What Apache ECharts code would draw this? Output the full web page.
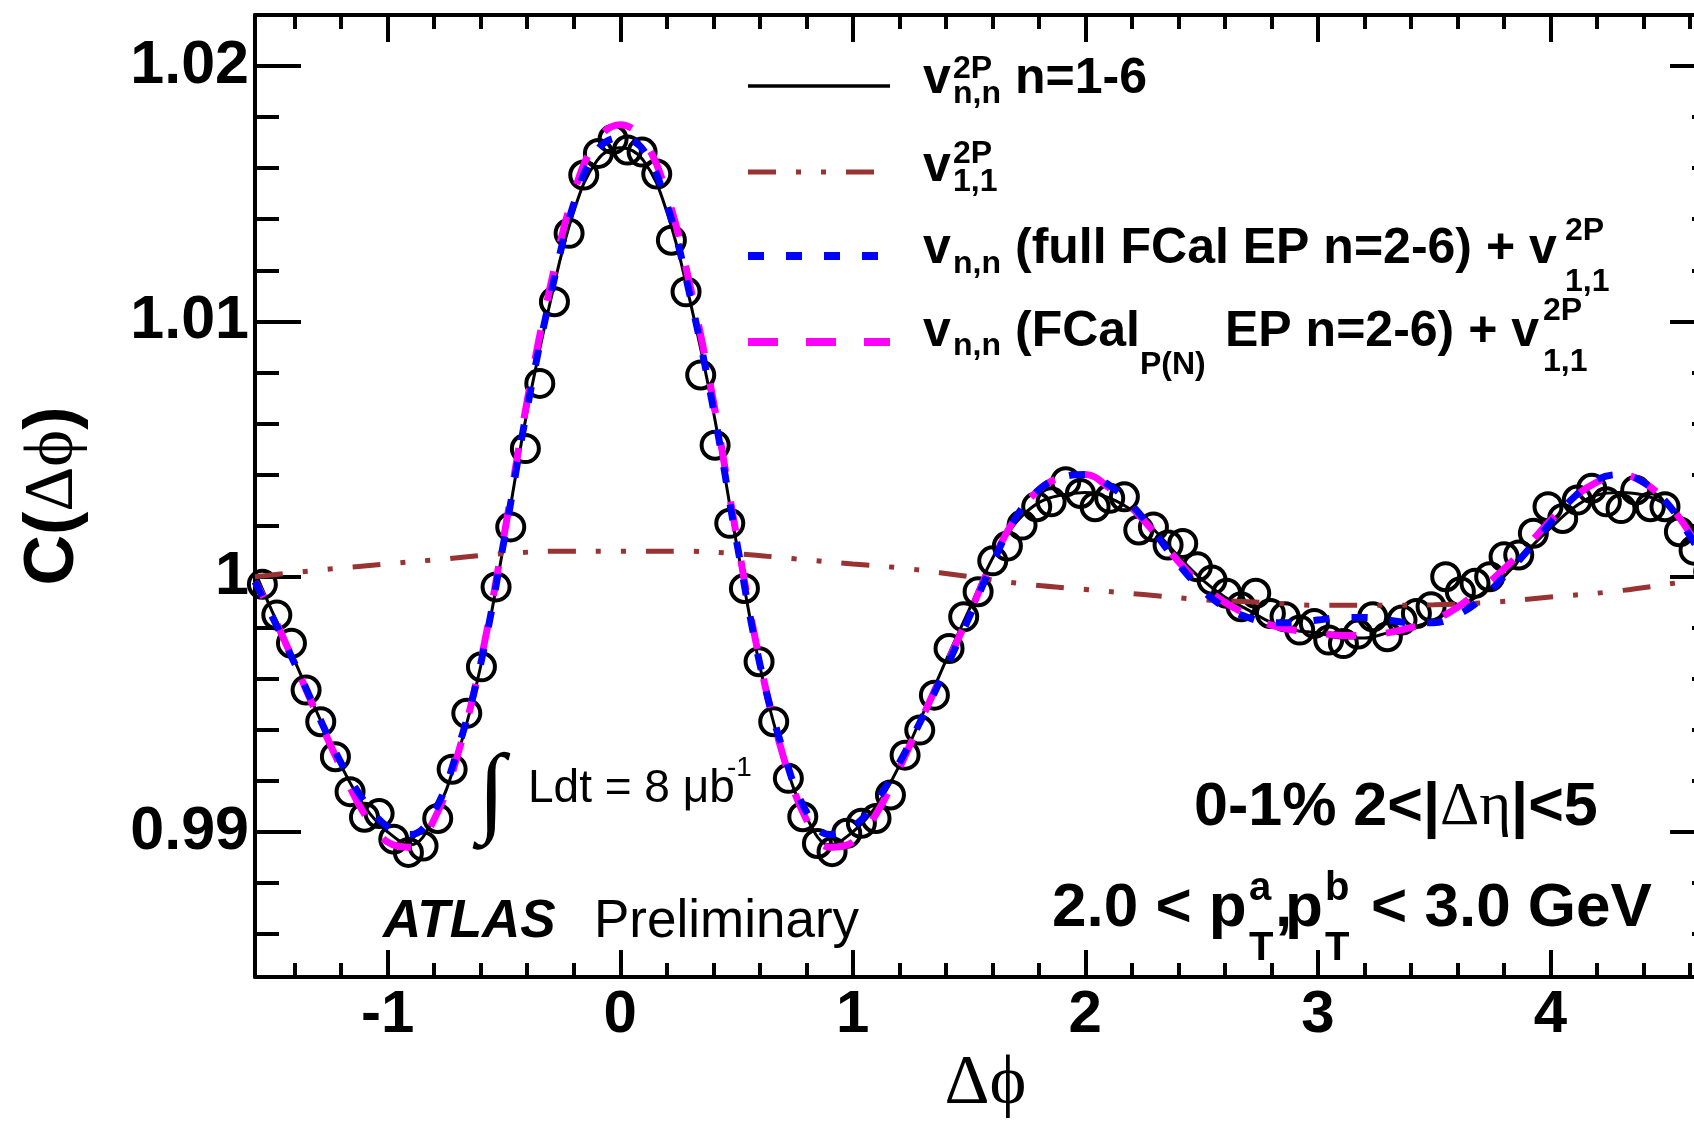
<!DOCTYPE html>
<html>
<head>
<meta charset="utf-8">
<script src="https://cdn.jsdelivr.net/npm/echarts@6/dist/echarts.min.js"></script>
<style>
  html, body { margin: 0; padding: 0; background: #fff; }
  #chart { width: 1694px; height: 1121px; }
</style>
</head>
<body>
<div id="chart"></div>
<script>
// measured points: 100 bins over [-pi/2, 3pi/2]
const dphi = [
  -1.539, -1.477, -1.414, -1.351, -1.288, -1.225, -1.162, -1.100, -1.037, -0.974,
  -0.911, -0.848, -0.785, -0.723, -0.660, -0.597, -0.534, -0.471, -0.408, -0.346,
  -0.283, -0.220, -0.157, -0.094, -0.031, 0.031, 0.094, 0.157, 0.220, 0.283,
  0.346, 0.408, 0.471, 0.534, 0.597, 0.660, 0.723, 0.785, 0.848, 0.911,
  0.974, 1.037, 1.100, 1.162, 1.225, 1.288, 1.351, 1.414, 1.477, 1.539,
  1.602, 1.665, 1.728, 1.791, 1.853, 1.916, 1.979, 2.042, 2.105, 2.168,
  2.230, 2.293, 2.356, 2.419, 2.482, 2.545, 2.608, 2.670, 2.733, 2.796,
  2.859, 2.922, 2.985, 3.047, 3.110, 3.173, 3.236, 3.299, 3.362, 3.424,
  3.487, 3.550, 3.613, 3.676, 3.739, 3.801, 3.864, 3.927, 3.990, 4.053,
  4.116, 4.178, 4.241, 4.304, 4.367, 4.430, 4.493, 4.555, 4.618, 4.681
];
const corr = [
  0.99970, 0.99850, 0.99739, 0.99556, 0.99432, 0.99295, 0.99158, 0.99058, 0.99072, 0.98972,
  0.98920, 0.98945, 0.99053, 0.99246, 0.99465, 0.99647, 0.99960, 1.00195, 1.00502, 1.00757,
  1.01077, 1.01345, 1.01573, 1.01658, 1.01713, 1.01671, 1.01663, 1.01577, 1.01318, 1.01116,
  1.00790, 1.00515, 1.00209, 0.99954, 0.99667, 0.99432, 0.99210, 0.99060, 0.98955, 0.98923,
  0.98995, 0.99034, 0.99053, 0.99145, 0.99301, 0.99399, 0.99536, 0.99719, 0.99843, 0.99941,
  1.00062, 1.00120, 1.00202, 1.00274, 1.00293, 1.00372, 1.00326, 1.00274, 1.00307, 1.00313,
  1.00183, 1.00195, 1.00124, 1.00130, 1.00039, 0.99987, 0.99935, 0.99882, 0.99935, 0.99856,
  0.99843, 0.99791, 0.99817, 0.99752, 0.99738, 0.99775, 0.99843, 0.99765, 0.99830, 0.99856,
  0.99882, 1.00000, 0.99941, 0.99974, 1.00000, 1.00078, 1.00085, 1.00170, 1.00274, 1.00228,
  1.00300, 1.00346, 1.00293, 1.00267, 1.00339, 1.00274, 1.00274, 1.00176, 1.00104, 1.00020
];

// fit curves, read at these dphi values
const fitX = [
  -1.5708, -1.5, -1.4, -1.3, -1.2, -1.1, -1.0, -0.9, -0.8, -0.7, -0.6, -0.5, -0.4, -0.3, -0.2, -0.1,
  0, 0.1, 0.2, 0.3, 0.4, 0.5, 0.6, 0.7, 0.8, 0.9, 1.0, 1.1, 1.2, 1.3, 1.4, 1.5,
  1.6, 1.7, 1.8, 1.9, 2.0, 2.1, 2.2, 2.3, 2.4, 2.5, 2.6, 2.7, 2.8, 2.9, 3.0, 3.1,
  3.2, 3.3, 3.4, 3.5, 3.6, 3.7, 3.8, 3.9, 4.0, 4.1, 4.2, 4.3, 4.4, 4.5, 4.6, 4.7124
];
const fitAll = [ // v2P n,n n=1-6
  1.0002, 0.9987, 0.9967, 0.9946, 0.9926, 0.9910, 0.9900, 0.9895, 0.9906, 0.9930, 0.9965, 1.0013, 1.0065, 1.0108, 1.0143, 1.0163,
  1.0168, 1.0163, 1.0143, 1.0108, 1.0065, 1.0013, 0.9965, 0.9930, 0.9906, 0.9895, 0.9900, 0.9910, 0.9926, 0.9946, 0.9967, 0.9987,
  1.0007, 1.0021, 1.0029, 1.0032, 1.0033, 1.0031, 1.0026, 1.0018, 1.0008, 0.9999, 0.9992, 0.9987, 0.9982, 0.9979, 0.9978, 0.9976,
  0.9976, 0.9978, 0.9980, 0.9983, 0.9988, 0.9993, 1.0000, 1.0010, 1.0019, 1.0027, 1.0032, 1.0033, 1.0032, 1.0028, 1.0019, 1.0002
];
const fitFull = [ // vn,n full FCal EP + v11
  0.9998, 0.9985, 0.9966, 0.9946, 0.9927, 0.9912, 0.9902, 0.9899, 0.9908, 0.9932, 0.9966, 1.0014, 1.0066, 1.0110, 1.0146, 1.0167,
  1.0172, 1.0167, 1.0146, 1.0110, 1.0066, 1.0014, 0.9966, 0.9932, 0.9908, 0.9899, 0.9902, 0.9912, 0.9927, 0.9945, 0.9964, 0.9984,
  1.0005, 1.0023, 1.0034, 1.0039, 1.0040, 1.0036, 1.0028, 1.0017, 1.0005, 0.9995, 0.9988, 0.9984, 0.9982, 0.9982, 0.9983, 0.9984,
  0.9984, 0.9983, 0.9982, 0.9982, 0.9985, 0.9991, 1.0000, 1.0010, 1.0021, 1.0031, 1.0038, 1.0040, 1.0037, 1.0029, 1.0016, 0.9998
];
const fitPN = [ // vn,n FCal P(N) EP + v11
  0.9998, 0.9986, 0.9966, 0.9945, 0.9925, 0.9907, 0.9896, 0.9894, 0.9905, 0.9930, 0.9967, 1.0016, 1.0069, 1.0114, 1.0150, 1.0171,
  1.0177, 1.0171, 1.0150, 1.0114, 1.0069, 1.0016, 0.9967, 0.9930, 0.9905, 0.9894, 0.9896, 0.9907, 0.9925, 0.9945, 0.9965, 0.9985,
  1.0006, 1.0023, 1.0034, 1.0039, 1.0040, 1.0035, 1.0027, 1.0017, 1.0006, 0.9997, 0.9990, 0.9985, 0.9981, 0.9979, 0.9978, 0.9977,
  0.9977, 0.9978, 0.9980, 0.9983, 0.9988, 0.9995, 1.0003, 1.0012, 1.0022, 1.0031, 1.0037, 1.0040, 1.0037, 1.0029, 1.0017, 0.9998
];
const v11X = [
  -1.5708, -1.25, -1.0, -0.75, -0.5, -0.25, 0, 0.25, 0.5, 0.75, 1.0, 1.25, 1.5,
  1.75, 2.0, 2.25, 2.5, 2.75, 3.0, 3.25, 3.5, 3.75, 4.0, 4.25, 4.5, 4.7124
];
const v11 = [
  1.0000, 1.0003, 1.0005, 1.0007, 1.0009, 1.0010, 1.0010, 1.0010, 1.0009, 1.0007, 1.0005, 1.0003, 1.0000,
  0.9997, 0.9995, 0.9993, 0.9991, 0.9990, 0.99888, 0.99888, 0.9989, 0.9990, 0.9992, 0.9994, 0.9997, 1.0000
];

const xMajor = [-1, 0, 1, 2, 3, 4];
const xMinor = [-1.4, -1.2, -0.8, -0.6, -0.4, -0.2, 0.2, 0.4, 0.6, 0.8, 1.2, 1.4, 1.6, 1.8,
  2.2, 2.4, 2.6, 2.8, 3.2, 3.4, 3.6, 3.8, 4.2, 4.4, 4.6];
const xTickLabels = ['-1', '0', '1', '2', '3', '4'];
const yMajor = [0.99, 1.0, 1.01, 1.02];
const yTickLabels = ['0.99', '1', '1.01', '1.02'];
const yMinor = [0.986, 0.988, 0.992, 0.994, 0.996, 0.998, 1.002, 1.004, 1.006, 1.008,
  1.012, 1.014, 1.016, 1.018];

const XMIN = -Math.PI / 2, XMAX = 3 * Math.PI / 2;
const YMIN = 0.98432, YMAX = 1.022;
const SANS = 'Liberation Sans';
const SERIF = '"Liberation Serif", "DejaVu Serif"';
const BROWN = '#993333';

const pick = (vals, labels) => (v) => {
  let best = 0;
  vals.forEach((t, i) => { if (Math.abs(t - v) < Math.abs(vals[best] - v)) best = i; });
  return labels[best];
};

const tickStyle = { color: '#000', width: 4 };
function xAx(pos, vals, len, major, labels) {
  return {
    type: 'value', min: XMIN, max: XMAX, position: pos,
    axisLine: { show: major, onZero: false, lineStyle: { color: '#000', width: 4 } },
    axisTick: { show: true, inside: true, length: len, customValues: vals, lineStyle: tickStyle },
    axisLabel: labels ? {
      show: true, customValues: vals, margin: 8, color: '#000', fontSize: 60, fontWeight: 'bold',
      fontFamily: SANS, formatter: pick(xMajor, xTickLabels), hideOverlap: false
    } : { show: false },
    splitLine: { show: false }
  };
}
function yAx(pos, vals, len, major, labels) {
  return {
    type: 'value', min: YMIN, max: YMAX, position: pos,
    axisLine: { show: major, onZero: false, lineStyle: { color: '#000', width: 4 } },
    axisTick: { show: true, inside: true, length: len, customValues: vals, lineStyle: tickStyle },
    axisLabel: labels ? {
      show: true, customValues: vals, margin: 6, color: '#000', fontSize: 61, fontWeight: 'bold',
      fontFamily: SANS, formatter: pick(yMajor, yTickLabels), hideOverlap: false
    } : { show: false },
    splitLine: { show: false }
  };
}

const xAxes = [
  xAx('bottom', xMajor, 27, true, true),
  xAx('bottom', xMinor, 14, false, false),
  xAx('top', xMajor, 27, true, false),
  xAx('top', xMinor, 14, false, false)
];
Object.assign(xAxes[0], {
  name: 'Δϕ', nameLocation: 'middle', nameGap: 72,
  nameTextStyle: { color: '#000', fontSize: 70, fontFamily: SERIF }
});
const yAxes = [
  yAx('left', yMajor, 46, true, true),
  yAx('left', yMinor, 24, false, false),
  yAx('right', yMajor, 46, true, false),
  yAx('right', yMinor, 24, false, false)
];
Object.assign(yAxes[0], {
  name: '{b|C(}{s|Δϕ}{b|)}', nameLocation: 'middle', nameGap: 166, nameRotate: 90,
  nameTextStyle: {
    color: '#000',
    rich: {
      b: { fontSize: 70, fontWeight: 'bold', fontFamily: SANS, color: '#000' },
      s: { fontSize: 70, fontFamily: SERIF, color: '#000' }
    }
  }
});

// text helper: x = left edge, base = baseline
function txt(x, base, s, size, o = {}) {
  const k = o.family === SERIF ? 0.3375 : 0.3465;
  return {
    type: 'text', x: x, y: base - k * size, silent: true, z: 100,
    style: {
      text: s, fill: '#000', fontSize: size, fontFamily: o.family || SANS,
      fontWeight: o.bold === false ? 'normal' : 'bold', fontStyle: o.italic ? 'italic' : 'normal',
      align: o.align || 'left', verticalAlign: 'middle'
    }
  };
}
function legLine(y, x2, color, w, dash) {
  return {
    type: 'line', silent: true, z: 100,
    shape: { x1: 748, y1: y, x2: x2, y2: y },
    style: { stroke: color, lineWidth: w, lineDash: dash || null }
  };
}

const graphics = [
  legLine(86, 890, '#000', 3.5),
  legLine(172, 879, BROWN, 5, [28, 20, 5, 20, 5, 20]),
  legLine(256, 879, '#0000ff', 8, [16, 22]),
  legLine(342, 890, '#ff00ff', 8, [30, 28]),
  // legend labels
  txt(923, 97, 'v', 50), txt(953, 80, '2P', 32), txt(953, 105, 'n,n', 32), txt(1015, 97, 'n=1-6', 50),
  txt(923, 185, 'v', 50), txt(953, 165, '2P', 32), txt(953, 193, '1,1', 32),
  txt(923, 267, 'v', 50), txt(953, 275, 'n,n', 32), txt(1015, 267, '(full FCal EP n=2-6) + v', 50),
  txt(1565, 242, '2P', 32), txt(1565, 293, '1,1', 32),
  txt(923, 350, 'v', 50), txt(953, 357, 'n,n', 32), txt(1015, 350, '(FCal', 50),
  txt(1140, 376, 'P(N)', 32), txt(1225, 350, 'EP n=2-6) + v', 50),
  txt(1543, 322, '2P', 32), txt(1543, 373, '1,1', 32),
  // luminosity
  txt(478, 830, '∫', 100, { family: SERIF, bold: false }),
  txt(528, 805, 'Ldt = 8 μb', 46, { bold: false }),
  txt(727, 778, '-1', 28, { bold: false }),
  // ATLAS label
  txt(383, 941, 'ATLAS', 53, { italic: true }),
  txt(594, 941, 'Preliminary', 53, { bold: false }),
  // selection
  {
    type: 'text', x: 1194, y: 829 - 0.3465 * 61, silent: true, z: 100,
    style: {
      text: '{b|0-1% 2<|}{s|Δη}{b||<5}', verticalAlign: 'middle', align: 'left',
      rich: {
        b: { fontSize: 61, fontWeight: 'bold', fontFamily: SANS, fill: '#000', color: '#000' },
        s: { fontSize: 61, fontFamily: SERIF, fill: '#000', color: '#000' }
      }
    }
  },
  txt(1052, 930, '2.0 < p', 62), txt(1249, 903, 'a', 40), txt(1249, 963, 'T', 40),
  txt(1275, 930, ',', 62), txt(1285, 930, 'p', 62), txt(1325, 903, 'b', 40), txt(1325, 963, 'T', 40),
  txt(1371, 930, '< 3.0 GeV', 62)
];

const pairs = (xs, ys) => xs.map((x, i) => [x, ys[i]]);

const chart = echarts.init(document.getElementById('chart'), null, { renderer: 'canvas' });
chart.setOption({
  animation: false,
  backgroundColor: '#fff',
  grid: { left: 255, top: 15, width: 1461, height: 962, containLabel: false, outerBoundsMode: 'none' },
  xAxis: xAxes,
  yAxis: yAxes,
  series: [
    {
      name: 'data', type: 'scatter', data: pairs(dphi, corr), symbol: 'circle', symbolSize: 27,
      itemStyle: { color: 'rgba(0,0,0,0)', borderColor: '#000', borderWidth: 4, opacity: 1 },
      z: 2, silent: true
    },
    {
      name: 'v2P nn', type: 'line', data: pairs(fitX, fitAll), smooth: 0.4, symbol: 'none',
      lineStyle: { color: '#000', width: 3 }, z: 3, silent: true
    },
    {
      name: 'v2P 11', type: 'line', data: pairs(v11X, v11), smooth: 0.4, symbol: 'none',
      lineStyle: { color: BROWN, width: 5, type: [28, 20, 5, 20, 5, 20] }, z: 4, silent: true
    },
    {
      name: 'FCal P(N)', type: 'line', data: pairs(fitX, fitPN), smooth: 0.4, symbol: 'none',
      lineStyle: { color: '#ff00ff', width: 7, type: [30, 30], dashOffset: 12 }, z: 5, silent: true
    },
    {
      name: 'full FCal', type: 'line', data: pairs(fitX, fitFull), smooth: 0.4, symbol: 'none',
      lineStyle: { color: '#0000ff', width: 7, type: [16, 22] }, z: 6, silent: true
    }
  ],
  graphic: graphics
});
</script>
</body>
</html>
